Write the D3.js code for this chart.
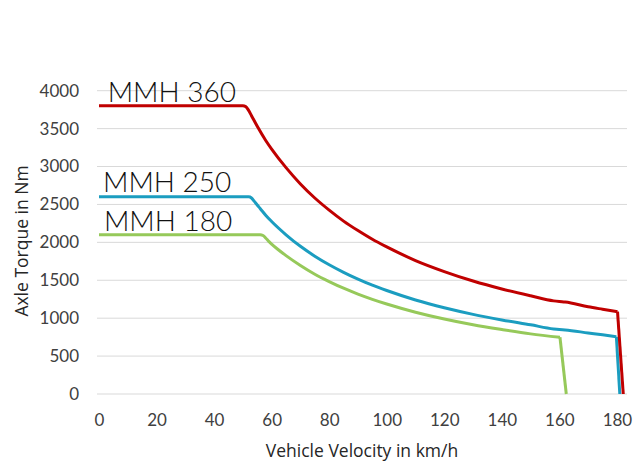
<!DOCTYPE html>
<html>
<head>
<meta charset="utf-8">
<script src="https://cdn.jsdelivr.net/npm/d3@7"></script>
<style>
  body { margin: 0; background: #fff; }
  svg { display: block; }
</style>
</head>
<body>
<svg width="640" height="469"></svg>
<script>
// torque curves: [velocity km/h, torque Nm]
var mmh360 = [[0,3800],[50,3800],[51,3790],[52,3740],[53,3670],[55,3530],[58,3340],[60,3230],[65,2985],
  [70,2770],[75,2585],[80,2425],[85,2280],[90,2155],[95,2040],[100,1940],[110,1760],[120,1615],
  [130,1490],[140,1385],[150,1295],[158,1228],[160,1220],[162,1214],[170,1150],[175,1118],
  [180.2,1086],[182.2,0]];
var mmh250 = [[0,2600],[52,2600],[53,2585],[54,2540],[55,2492],[56,2447],[58,2355],[60,2275],[65,2100],
  [70,1948],[75,1818],[80,1705],[85,1605],[90,1515],[95,1435],[100,1365],[110,1240],[120,1137],
  [130,1050],[140,977],[150,912],[158,858],[160,850],[162,845],[170,805],[175,780],[179.8,755],
  [181.0,0]];
var mmh180 = [[0,2100],[56,2100],[57,2090],[58,2055],[59,2013],[60,1977],[62,1912],[65,1825],[70,1695],
  [75,1580],[80,1483],[85,1395],[90,1318],[95,1249],[100,1187],[110,1079],[120,989],[130,913],
  [140,850],[150,793],[160.2,748],[162.4,0]];

var seriesNames = ["MMH 360", "MMH 250", "MMH 180"];
var seriesColors = ["#c00000", "#1b9dc0", "#96c95a"];
var labelAnchor = [[3.0, 3847], [1.4, 2668], [1.7, 2153]];

var xTicks = [0, 20, 40, 60, 80, 100, 120, 140, 160, 180];
var yTicks = [0, 500, 1000, 1500, 2000, 2500, 3000, 3500, 4000];

var svg = d3.select("svg");

var x = d3.scaleLinear().domain([0, 183.5]).range([99, 627]);
var y = d3.scaleLinear().domain([0, 4000]).range([394, 90.7]);

// gridlines
svg.append("g").selectAll("line")
  .data(yTicks)
  .enter().append("line")
  .attr("x1", 97).attr("x2", 627)
  .attr("y1", function(d) { return y(d); })
  .attr("y2", function(d) { return y(d); })
  .attr("stroke", "#d9d9d9")
  .attr("stroke-width", 1);

// y tick labels
var yAxis = d3.axisLeft(y).tickValues(yTicks).tickFormat(d3.format("d")).tickSize(0).tickPadding(0);
var gy = svg.append("g").attr("transform", "translate(79,0)").call(yAxis);
gy.select(".domain").remove();
gy.selectAll("text")
  .attr("fill", "#404040")
  .style("font-family", "Lato, 'Open Sans', sans-serif")
  .style("font-size", "17px");

// x tick labels
var xAxis = d3.axisBottom(x).tickValues(xTicks).tickFormat(d3.format("d")).tickSize(0).tickPadding(0);
var gx = svg.append("g").attr("transform", "translate(0,414)").call(xAxis);
gx.select(".domain").remove();
gx.selectAll("text")
  .attr("fill", "#404040")
  .style("font-family", "Lato, 'Open Sans', sans-serif")
  .style("font-size", "17px");

// curves
var line = d3.line()
  .x(function(d) { return x(d[0]); })
  .y(function(d) { return y(d[1]); })
  .curve(d3.curveMonotoneX);

var lineStraight = d3.line()
  .x(function(d) { return x(d[0]); })
  .y(function(d) { return y(d[1]); });

[mmh180, mmh250, mmh360].forEach(function(s, k) {
  var i = 2 - k;
  var body = s.slice(0, s.length - 1);
  var drop = s.slice(s.length - 2);
  svg.append("path")
    .attr("d", line(body))
    .attr("fill", "none")
    .attr("stroke", seriesColors[i])
    .attr("stroke-width", 3)
    .attr("stroke-linejoin", "round");
  svg.append("path")
    .attr("d", lineStraight(drop))
    .attr("fill", "none")
    .attr("stroke", seriesColors[i])
    .attr("stroke-width", 3);
});

// series labels
svg.append("g").selectAll("text")
  .data(seriesNames)
  .enter().append("text")
  .attr("x", function(d, i) { return x(labelAnchor[i][0]); })
  .attr("y", function(d, i) { return y(labelAnchor[i][1]); })
  .text(function(d) { return d; })
  .attr("fill", "#111")
  .style("font-family", "Lato, sans-serif")
  .style("font-weight", 300)
  .style("font-size", "28px");

// axis titles
svg.append("text")
  .attr("x", 362).attr("y", 457)
  .attr("text-anchor", "middle")
  .attr("fill", "#262626")
  .style("font-family", "'Open Sans', sans-serif")
  .style("font-size", "17.5px")
  .text("Vehicle Velocity in km/h");

svg.append("text")
  .attr("transform", "translate(28,241) rotate(-90)")
  .attr("text-anchor", "middle")
  .attr("fill", "#262626")
  .style("font-family", "'Open Sans', sans-serif")
  .style("font-size", "17.5px")
  .text("Axle Torque in Nm");
</script>
</body>
</html>
